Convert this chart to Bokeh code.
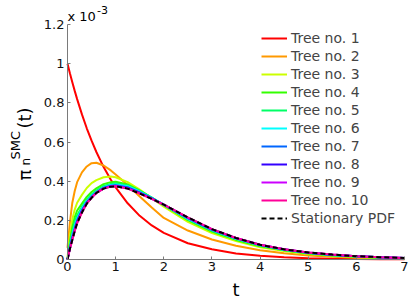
import math
from bokeh.plotting import figure
from bokeh.models import (Range1d, Legend, LegendItem, Label, FixedTicker,
                          CustomJSTickFormatter)
from bokeh.embed import file_html
from bokeh.resources import INLINE

# ---- data (density values in units of 1e-3) ----
t = [0, 0.05, 0.1, 0.15, 0.2, 0.3, 0.4, 0.5, 0.6, 0.75, 0.9, 1.0, 1.25, 1.5,
     1.75, 2.0, 2.5, 3.0, 3.5, 4.0, 4.5, 5.0, 5.5, 6.0, 6.5, 7.0]

tree1 = [1.0, 0.951, 0.905, 0.861, 0.819, 0.741, 0.670, 0.607, 0.549, 0.472, 0.407, 0.368, 0.287, 0.223,
         0.174, 0.136, 0.083, 0.052, 0.031, 0.019, 0.012, 0.007, 0.004, 0.0025, 0.0015, 0.001]
tree2 = [0.06, 0.19, 0.29, 0.35, 0.395, 0.445, 0.475, 0.492, 0.494, 0.480, 0.455, 0.434, 0.380, 0.322,
         0.265, 0.212, 0.148, 0.102, 0.070, 0.047, 0.032, 0.021, 0.014, 0.009, 0.006, 0.004]
tree3 = [0.01, 0.12, 0.205, 0.255, 0.29, 0.33, 0.365, 0.39, 0.405, 0.42, 0.424, 0.42, 0.395, 0.357,
         0.313, 0.27, 0.192, 0.135, 0.094, 0.063, 0.043, 0.028, 0.019, 0.012, 0.008, 0.005]
tree4 = [0.0, 0.09, 0.165, 0.215, 0.25, 0.285, 0.32, 0.345, 0.363, 0.385, 0.395, 0.397, 0.383, 0.352,
         0.316, 0.277, 0.201, 0.143, 0.100, 0.068, 0.047, 0.031, 0.021, 0.014, 0.009, 0.006]
tree5 = [0.0, 0.075, 0.14, 0.19, 0.225, 0.27, 0.305, 0.332, 0.352, 0.375, 0.386, 0.389, 0.378, 0.350,
         0.316, 0.279, 0.205, 0.147, 0.104, 0.071, 0.049, 0.033, 0.022, 0.015, 0.010, 0.007]
tree6 = [0.0, 0.067, 0.125, 0.172, 0.208, 0.26, 0.298, 0.325, 0.346, 0.369, 0.381, 0.383, 0.374, 0.347,
         0.315, 0.279, 0.208, 0.150, 0.106, 0.073, 0.050, 0.034, 0.023, 0.016, 0.011, 0.007]
tree7 = [0.0, 0.062, 0.115, 0.16, 0.199, 0.253, 0.293, 0.320, 0.343, 0.366, 0.377, 0.379, 0.369, 0.343,
         0.313, 0.280, 0.211, 0.152, 0.108, 0.074, 0.051, 0.035, 0.024, 0.016, 0.011, 0.008]
tree8 = [0.0, 0.058, 0.107, 0.152, 0.192, 0.247, 0.289, 0.318, 0.341, 0.364, 0.374, 0.376, 0.365, 0.340,
         0.311, 0.280, 0.213, 0.154, 0.109, 0.075, 0.052, 0.035, 0.024, 0.017, 0.011, 0.008]
tree9 = [0.0, 0.056, 0.103, 0.148, 0.188, 0.243, 0.287, 0.316, 0.340, 0.362, 0.373, 0.375, 0.363, 0.338,
         0.310, 0.280, 0.214, 0.155, 0.110, 0.075, 0.052, 0.036, 0.025, 0.017, 0.012, 0.008]
tree10 = [0.0, 0.055, 0.100, 0.145, 0.185, 0.240, 0.285, 0.315, 0.340, 0.362, 0.372, 0.374, 0.362, 0.337,
          0.310, 0.280, 0.215, 0.155, 0.110, 0.075, 0.052, 0.036, 0.025, 0.017, 0.012, 0.008]
stationary = [0.0, 0.055, 0.100, 0.145, 0.185, 0.240, 0.285, 0.315, 0.340, 0.362, 0.372, 0.374, 0.362, 0.337,
              0.310, 0.280, 0.215, 0.155, 0.110, 0.075, 0.052, 0.036, 0.025, 0.017, 0.012, 0.008]

series = [tree1, tree2, tree3, tree4, tree5, tree6, tree7, tree8, tree9, tree10]
labels = ["Tree no. %d" % i for i in range(1, 11)] + ["Stationary PDF"]
colors = ["#ff0000", "#ff9900", "#ccff00", "#33ff00", "#00ff66",
          "#00ffff", "#0066ff", "#3300ff", "#cc00ff", "#ff0099"]
y_ticks = [0, 0.2, 0.4, 0.6, 0.8, 1.0, 1.2]
x_ticks = [0, 1, 2, 3, 4, 5, 6, 7]

FONT = "DejaVu Sans"
W, H = 409, 300
# axes box in canvas pixels: x 0..7 -> 67..404, y 0..1.2 -> 259..24
PX0, PX1, PY0, PY1 = 67.0, 404.0, 259.0, 24.0
XS = 7.0 / (PX1 - PX0)
YS = 1.2 / (PY0 - PY1)

def dx(px):
    return (px - PX0) * XS

def dy(py):
    return (PY0 - py) * YS

p = figure(width=W, height=H, output_backend="svg", toolbar_location=None,
           x_range=Range1d(dx(0), dx(W)), y_range=Range1d(dy(H), dy(0)),
           min_border=0, min_border_left=0, min_border_right=0,
           min_border_top=0, min_border_bottom=0)
p.outline_line_color = None
p.xgrid.visible = False
p.ygrid.visible = False
p.background_fill_color = "white"
p.border_fill_color = "white"

p.xaxis.fixed_location = 0
p.yaxis.fixed_location = 0
p.xaxis.bounds = (0, 7)
p.yaxis.bounds = (0, 1.2)
for ax in (p.xaxis, p.yaxis):
    ax.axis_line_color = "#7a7a7a"
    ax.major_tick_line_color = "#7a7a7a"
    ax.major_tick_in = 3
    ax.major_tick_out = 0
    ax.minor_tick_line_color = None
    ax.major_label_text_font = FONT
    ax.major_label_text_font_size = "13px"
    ax.major_label_text_color = "#111111"
p.xaxis.ticker = FixedTicker(ticks=x_ticks)
p.yaxis.ticker = FixedTicker(ticks=y_ticks)
p.yaxis.formatter = CustomJSTickFormatter(code="return Number(tick.toFixed(2)).toString();")
p.xaxis.major_label_standoff = 2
p.yaxis.major_label_standoff = 3

renderers = []
for s, c in zip(series, colors):
    renderers.append(p.line(t, s, line_color=c, line_width=2))
renderers.append(p.line(t, stationary, line_color="black", line_width=2, line_dash="5 3"))

legend = Legend(items=[LegendItem(label=l, renderers=[r]) for l, r in zip(labels, renderers)],
                location=(261, 73), padding=0, margin=0, spacing=0,
                glyph_width=26, glyph_height=18, label_height=18, label_standoff=4,
                label_text_font=FONT, label_text_font_size="14px",
                border_line_color=None, background_fill_alpha=0)
p.add_layout(legend)

def lab(text, px, py, size, angle=0.0, align="left"):
    p.add_layout(Label(x=dx(px), y=dy(py), text=text, angle=angle,
                       text_font=FONT, text_font_size=size, text_color="black",
                       text_align=align, text_baseline="alphabetic"))

# x axis label
lab("t", 235.5, 289, "18px", align="center")
# y axis label  pi_n^SMC(t)
up = math.pi / 2
lab("\u03c0", 23.5, 180, "18px", angle=up)
lab("n", 25.5, 165, "12px", angle=up)
lab("SMC", 14.5, 159, "13px", angle=up)
lab("(t)", 23.5, 128, "18px", angle=up)
# multiplier
lab("x 10", 67, 16, "13px")
lab("-3", 96.5, 9, "11px")

open("out.html", "w").write(file_html(p, INLINE))
